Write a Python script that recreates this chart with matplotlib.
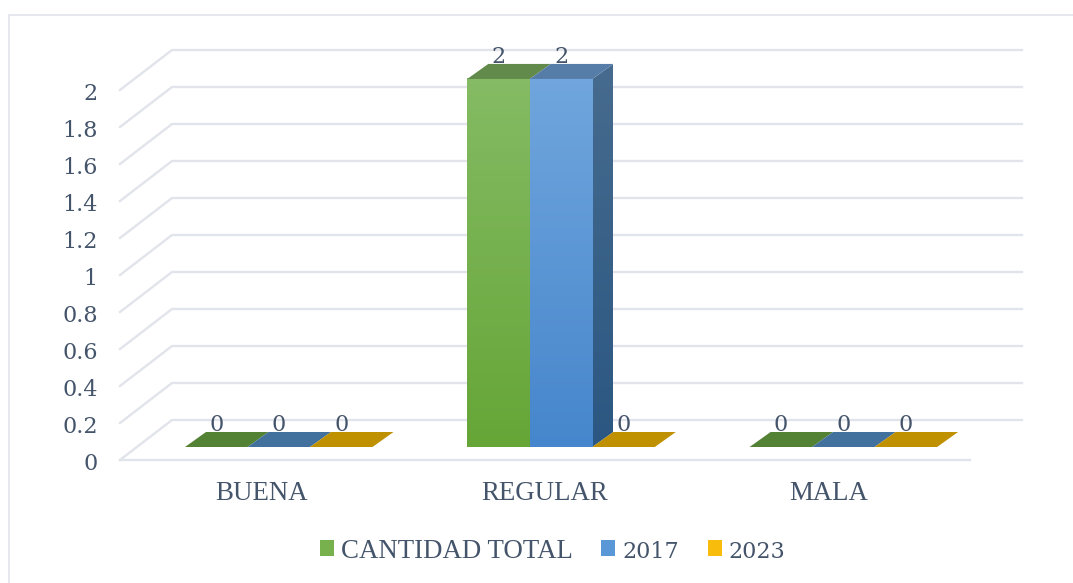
import numpy as np
import matplotlib
matplotlib.use('Agg')
import matplotlib.pyplot as plt
from matplotlib.colors import LinearSegmentedColormap
from matplotlib.lines import Line2D
from matplotlib.patches import Patch, Polygon
from matplotlib.transforms import ScaledTranslation

categories = ['BUENA', 'REGULAR', 'MALA']
series_names = ['CANTIDAD TOTAL', '2017', '2023']
total = [0, 2, 0]
y2017 = [0, 2, 0]
y2023 = [0, 0, 0]
yticks = [0, 0.2, 0.4, 0.6, 0.8, 1, 1.2, 1.4, 1.6, 1.8, 2]
ytick_labels = ['0', '0.2', '0.4', '0.6', '0.8', '1', '1.2', '1.4', '1.6', '1.8', '2']

W, H = 1073, 583
TEXT = '#44546A'
GRID = '#E1E4EB'

# front, top, side colours for each series
face_top = ['#84BB64', '#70A6DD', '#FFC61A']
face_bottom = ['#66A637', '#4686CC', '#F0B400']
top_tall = ['#628A4A', '#567CA8', '#BF9000']
top_flat = ['#548235', '#41719C', '#BF9000']
side_top = '#466B8E'
side_bottom = '#2B5782'

fig = plt.figure(figsize=(W / 100, H / 100), dpi=100, facecolor='white')
ax = fig.add_axes([120 / W, 1 - 460 / H, 850 / W, 370 / H])
ax.set_facecolor('none')
for s in ax.spines.values():
    s.set_visible(False)

# wall depth and bar depth, in data units
wall_dx, wall_dy = 52 / 850 * 3, 40 / 185
bar_dx, bar_dy = 21 / 850 * 3, 15 / 185
bar_w = 62.5 / 850 * 3
bar_start = 65 / 850 * 3
group_step = 282.3 / 850 * 3
floor = 13 / 185
bar_scale = 369 / 370


def gradient(x0, x1, y0, y1, c_top, c_bottom, z):
    cmap = LinearSegmentedColormap.from_list('g', [c_bottom, c_top])
    return ax.imshow(np.linspace(1, 0, 64).reshape(-1, 1), cmap=cmap, aspect='auto',
                     extent=[x0, x1, y0, y1], zorder=z, clip_on=False, vmin=0, vmax=1)


# grid
for v in yticks:
    ax.plot([0, wall_dx, 3 + wall_dx], [v, v + wall_dy, v + wall_dy],
            color=GRID, lw=1.7, zorder=1, clip_on=False, solid_joinstyle='miter')
ax.plot([0, 3], [0, 0], color=GRID, lw=1.7, zorder=1, clip_on=False)

# bars, back to front within each group
for i in range(len(categories)):
    vals = [total[i], y2017[i], y2023[i]]
    for j, v in enumerate(vals):
        x0 = i * group_step + bar_start + j * bar_w
        x1 = x0 + bar_w
        top = v * bar_scale + floor - (0.005 if v > 0 else 0)
        z = 3 + j * 0.1
        if v > 0:
            gradient(x0, x1, floor, top, face_top[j], face_bottom[j], z)
        cols = top_tall if v > 0 else top_flat
        ax.add_patch(Polygon([(x0, top), (x1, top), (x1 + bar_dx, top + bar_dy), (x0 + bar_dx, top + bar_dy)],
                             closed=True, facecolor=cols[j], edgecolor='none', zorder=z, clip_on=False))
        next_v = vals[j + 1] if j < 2 else 0
        if v > next_v:
            im = gradient(x1, x1 + bar_dx, floor, top + bar_dy, side_top, side_bottom, z - 0.05)
            side = Polygon([(x1, floor), (x1 + bar_dx, floor + bar_dy), (x1 + bar_dx, top + bar_dy), (x1, top)],
                           closed=True, transform=ax.transData, facecolor='none', edgecolor='none')
            ax.add_patch(side)
            # the image has to leave the axes box, the top of the side is above it
            im.set_clip_on(True)
            im.set_clip_box(fig.bbox)
            im.set_clip_path(side)
        ax.annotate(str(v), (x0 + bar_w / 2, top + bar_dy), xytext=(0, -3), textcoords='offset points',
                    ha='center', va='bottom', fontsize=16, family='DejaVu Serif', color=TEXT,
                    zorder=6, annotation_clip=False)

ax.set_xlim(0, 3)
ax.set_ylim(0, 2)
ax.set_xticks([0.5, 1.5, 2.5])
ax.set_xticklabels(categories, family='Liberation Serif', fontsize=19.4, color=TEXT)
ax.set_yticks(yticks)
ax.set_yticklabels(ytick_labels, family='DejaVu Serif', fontsize=16, color=TEXT)
ax.tick_params(length=0)
ax.tick_params(axis='x', pad=15)
ax.tick_params(axis='y', pad=16)
down = ScaledTranslation(0, -1 / 72, fig.dpi_scale_trans)
for lab in ax.get_yticklabels():
    lab.set_transform(lab.get_transform() + down)

handles = [Patch(facecolor=c, edgecolor='none') for c in ['#76B14D', '#5A97D6', '#F8BD0C']]
leg = fig.legend(handles, series_names, loc='center', bbox_to_anchor=(552.5 / W, 1 - 551 / H), ncol=3,
                 frameon=False, handlelength=0.52, handleheight=0.52, handletextpad=0.26,
                 columnspacing=1.07, fontsize=19.4, labelcolor=TEXT)
for t, fam, size in zip(leg.get_texts(), ['Liberation Serif', 'DejaVu Serif', 'DejaVu Serif'], [19.4, 16, 16]):
    t.set_family(fam)
    t.set_fontsize(size)

# outer frame, only top and left show
fig.add_artist(Line2D([9 / W, 9 / W, 1], [0, 1 - 15 / H, 1 - 15 / H], color=GRID, lw=1.2))

fig.savefig('out.png', dpi=100, facecolor='white')
